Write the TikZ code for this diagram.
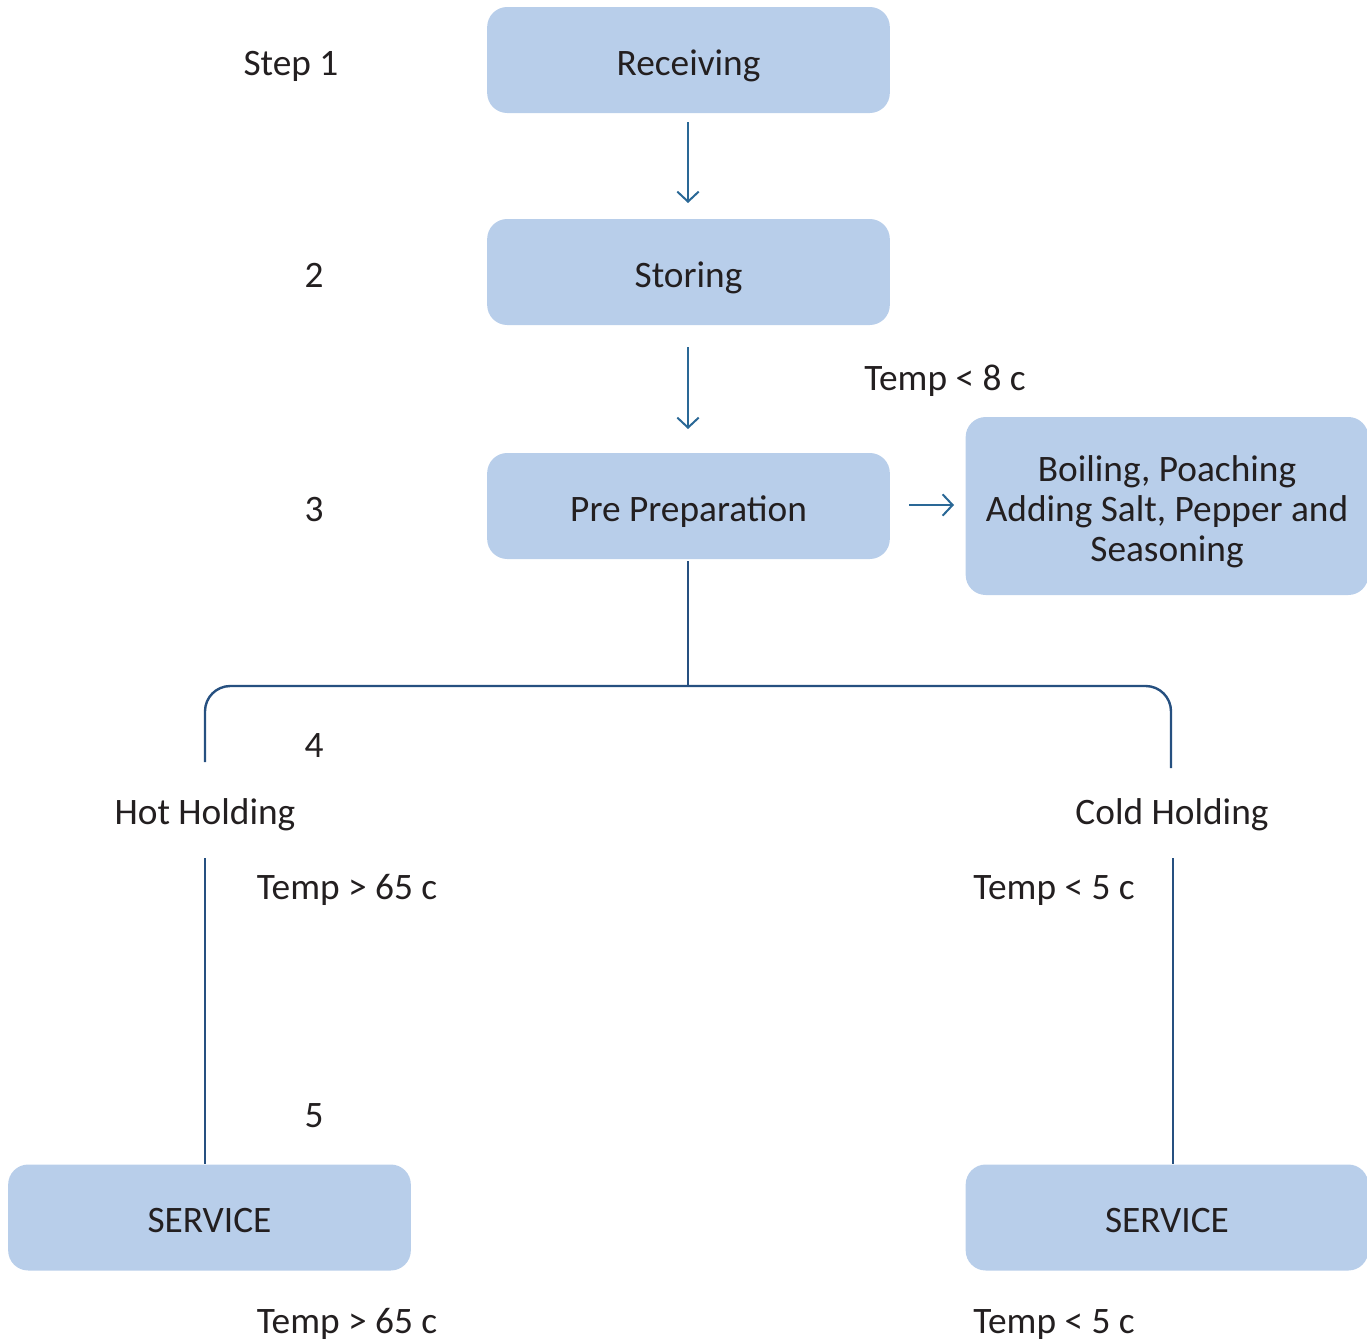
\documentclass[tikz,border=0pt]{standalone}
\usepackage{fontspec}
\setmainfont{Carlito}
\usetikzlibrary{arrows.meta}
\definecolor{boxfill}{RGB}{184,206,234}
\definecolor{inkc}{RGB}{35,31,32}
\definecolor{arrowc}{RGB}{42,104,150}
\definecolor{treec}{RGB}{38,80,128}
\tikzset{
  stepbox/.style={rectangle, rounded corners=15pt, fill=boxfill, draw=none,
    minimum width=302pt, minimum height=79.5pt, inner sep=0pt,
    text=inkc, text height=22.5pt, text depth=0pt},
  lbl/.style={anchor=base, text=inkc, inner sep=0pt},
  flow/.style={draw=arrowc, line width=1.6pt, -{Straight Barb[length=7.5pt, width=16pt, line width=1.5pt]}},
  tree/.style={draw=treec, line width=1.8pt},
}
\begin{document}
\begin{tikzpicture}[x=0.75pt, y=-0.75pt, font=\fontsize{28pt}{30pt}\selectfont]
\useasboundingbox (0,0) rectangle (1367,1342);

% process boxes
\node[stepbox] (recv) at (688.5,60) {Receiving};
\node[stepbox] (store) at (688.5,272) {Storing};
\node[stepbox] (prep) at (688.5,506) {Pre Preparation};
\node[stepbox, minimum height=133.5pt, text height=, text depth=, align=center] (cook) at (1167,506)
  {\rule{0pt}{27.5pt}Boiling, Poaching\\Adding Salt, Pepper and\\Seasoning};
\node[stepbox] (svcL) at (209.5,1217.5) {SERVICE};
\node[stepbox] (svcR) at (1167,1217.5) {SERVICE};

% step numbers
\node[lbl] (s1) at (291,75) {Step 1};
\node[lbl] (s2) at (314,287) {2};
\node[lbl] (s3) at (314,521) {3};
\node[lbl] (s4) at (314,757) {4};
\node[lbl] (s5) at (314,1127) {5};

% temperature notes and holding labels
\node[lbl] (t8) at (945,390) {Temp < 8 c};
\node[lbl] (hot) at (205,824) {Hot Holding};
\node[lbl] (cold) at (1172,824) {Cold Holding};
\node[lbl] (th1) at (347,899) {Temp > 65 c};
\node[lbl] (tc1) at (1054,899) {Temp < 5 c};
\node[lbl] (th2) at (347,1333) {Temp > 65 c};
\node[lbl] (tc2) at (1054,1333) {Temp < 5 c};

% arrows
\coordinate (a1s) at (688,122);
\coordinate (a1e) at (688,203);
\coordinate (a2s) at (688,347);
\coordinate (a2e) at (688,429);
\coordinate (a3s) at (909,505);
\coordinate (a3e) at (954,505);
\draw[flow] (a1s) -- (a1e);
\draw[flow] (a2s) -- (a2e);
\draw[flow] (a3s) -- (a3e);

% branching tree
\coordinate (split) at (688,686);
\coordinate (hottop) at (205,762);
\coordinate (coldtop) at (1171,768);
\coordinate (prepbot) at (688,561);
\draw[tree] (prepbot) -- (split);
\draw[tree, rounded corners=19pt] (hottop) |- (split) -| (coldtop);

\coordinate (hotlow) at (205,858);
\coordinate (coldlow) at (1173,858);
\draw[tree] (hotlow) -- (hotlow |- svcL.north);
\draw[tree] (coldlow) -- (coldlow |- svcR.north);
\end{tikzpicture}
\end{document}
